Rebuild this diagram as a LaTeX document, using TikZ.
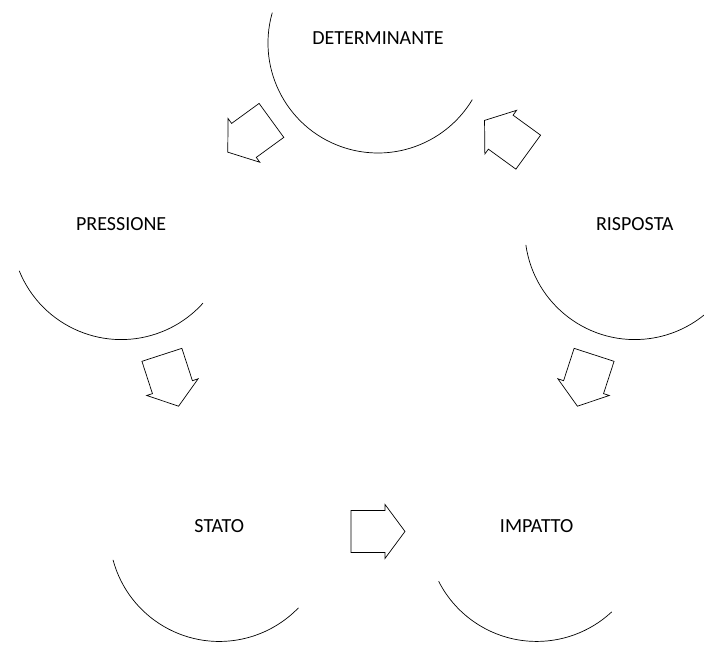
\documentclass[tikz,border=0pt]{standalone}
\usepackage{fontspec}
\setmainfont{Carlito}
\usetikzlibrary{calc}
\tikzset{
  stage/.style={font=\fontsize{20}{24}\selectfont, inner sep=0pt},
  rim/.style={draw=black, line width=0.7pt},
  flow/.style={draw=black, line width=0.7pt, line join=miter},
}
\newcommand{\cyclearrow}[3]{%
  \begin{scope}[shift={($(#1)!0.5!(#2)$)}, rotate=#3]
    \draw[flow] (27pt,0pt) -- (7pt,27pt) -- (7pt,21pt) -- (-27pt,21pt)
      -- (-27pt,-21pt) -- (7pt,-21pt) -- (7pt,-27pt) -- cycle;
  \end{scope}}

\begin{document}
\begin{tikzpicture}

  \useasboundingbox (-378pt,313pt) rectangle (326pt,-333pt);

  % circle centres
  \coordinate (cD) at (90:270pt);
  \coordinate (cP) at (162:270pt);
  \coordinate (cS) at (234:270pt);
  \coordinate (cI) at (306:270pt);
  \coordinate (cR) at (18:270pt);

  % labels
  \node[stage] (det) at ([yshift=5pt]cD) {DETERMINANTE};
  \node[stage] (pre) at ([yshift=5pt]cP) {PRESSIONE};
  \node[stage] (sta) at ([yshift=5pt]cS) {STATO};
  \node[stage] (imp) at ([yshift=5pt]cI) {IMPATTO};
  \node[stage] (ris) at ([yshift=5pt]cR) {RISPOSTA};

  % lower rims
  \draw[rim] (cD) ++(164:110pt) arc[start angle=164, end angle=329, radius=110pt];
  \draw[rim] (cP) ++(202:110pt) arc[start angle=202, end angle=318, radius=110pt];
  \draw[rim] (cS) ++(195:110pt) arc[start angle=195, end angle=316, radius=110pt];
  \draw[rim] (cI) ++(207:110pt) arc[start angle=207, end angle=313, radius=110pt];
  \draw[rim] (cR) ++(188:110pt) arc[start angle=188, end angle=330, radius=110pt];

  % arrows
  \cyclearrow{cD}{cP}{216}
  \cyclearrow{cP}{cS}{288}
  \cyclearrow{cS}{cI}{0}
  \cyclearrow{cR}{cI}{252}
  \cyclearrow{cR}{cD}{144}

\end{tikzpicture}
\end{document}
